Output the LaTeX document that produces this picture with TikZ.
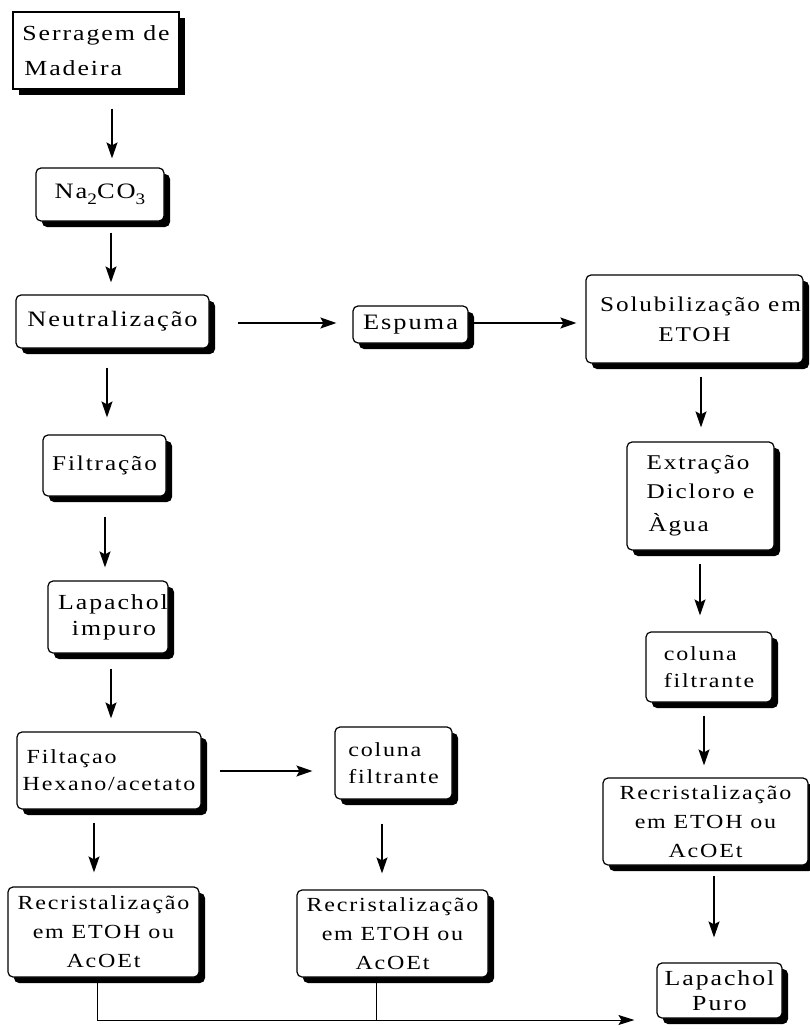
\documentclass[tikz,border=0pt]{standalone}
\usepackage{fontspec}
\newfontfamily\spfont[LetterSpace=9,FakeStretch=1.2]{Liberation Serif}
\usetikzlibrary{shadows,arrows.meta,calc}
\tikzset{
  box/.style={draw, line width=1.2pt, rounded corners=5pt, fill=white, inner sep=0pt, align=center,
    font=\spfont\fontsize{21}{27}\selectfont,
    drop shadow={shadow xshift=6pt, shadow yshift=-6pt, fill=black, opacity=1}},
  sqbox/.style={box, sharp corners},
  arr/.style={-{Stealth[length=16pt,width=11pt,inset=3pt]}, line width=1.3pt},
  thinln/.style={line width=1pt},
  big/.style={font=\spfont\fontsize{22}{30}\selectfont},
  rec/.style={font=\spfont\fontsize{20}{29}\selectfont},
  col/.style={font=\spfont\fontsize{20}{27}\selectfont}
}
\newcommand{\subn}[1]{\raisebox{-0.28em}{\fontsize{16}{16}\selectfont #1}}
\begin{document}
\begin{tikzpicture}[x=1pt,y=-1pt]
\useasboundingbox (0,0) rectangle (809,1030);
\node[sqbox, align=left, font=\spfont\fontsize{21.5}{35}\selectfont, minimum width=166pt, minimum height=77pt] (ser) at (96,50.5) {Serragem de\\ \hspace*{2pt}Madeira};
\node[box, big, minimum width=128pt, minimum height=53pt] (na) at (100,194.5) {Na\subn{2}CO\subn{3}};
\node[box, big, minimum width=193pt, minimum height=53pt] (neu) at (112.5,321.5) {Neutralização};
\node[box, big, minimum width=115pt, minimum height=37pt] (esp) at (410.5,324.5) {Espuma};
\node[box, font=\spfont\fontsize{21}{30}\selectfont, minimum width=217pt, minimum height=88pt] (sol) at (694.5,319) {\hspace*{12pt}Solubilização em\\ ETOH};
\node[box, align=left, font=\spfont\fontsize{21}{29}\selectfont, minimum width=147pt, minimum height=108pt] (ext) at (700.5,496) {Extração\\ Dicloro e\\[4pt] \hspace*{2pt}Àgua};
\node[box, col, align=left, minimum width=126pt, minimum height=70pt] (colr) at (709,667) {coluna\\ filtrante};
\node[box, rec, minimum width=205pt, minimum height=87pt] (recr) at (705.5,821.5) {Recristalização\\ em ETOH ou\\ AcOEt};
\node[box, minimum width=125pt, minimum height=55pt, font=\spfont\fontsize{21.5}{25}\selectfont] (lapp) at (719.5,990.5) {Lapachol\\ Puro};
\node[box, minimum width=123pt, minimum height=61pt] (filt) at (104.5,465.5) {Filtração};
\node[box, minimum width=120pt, minimum height=72pt, font=\spfont\fontsize{21.5}{26}\selectfont] (lapi) at (108,617) {\hspace*{10pt}Lapachol\\ \hspace*{12pt}impuro};
\node[box, align=left, font=\spfont\fontsize{20}{27}\selectfont, minimum width=184pt, minimum height=77pt] (filh) at (109,770.5) {\hspace*{4pt}Filtaçao\\ Hexano/acetato};
\node[box, col, align=left, minimum width=117pt, minimum height=72pt] (colm) at (393.5,763) {coluna\\ filtrante};
\node[box, rec, minimum width=191pt, minimum height=90pt] (recl) at (103.5,932) {Recristalização\\ em ETOH ou\\ AcOEt};
\node[box, rec, minimum width=191pt, minimum height=87pt] (recm) at (392.5,933.5) {Recristalização\\ em ETOH ou\\ AcOEt};

\draw[arr] ($(ser.south)+(16,19)$) -- ($(na.north)+(12,-9)$);
\draw[arr] ($(na.south)+(11,11)$) -- ($(neu.north)+(-1.5,-12)$);
\draw[arr] ($(neu.south)+(-5.5,19)$) -- ($(filt.north)+(2.5,-17)$);
\draw[arr] ($(filt.south)+(0.5,20)$) -- ($(lapi.north)+(-3,-13)$);
\draw[arr] ($(lapi.south)+(3,15)$) -- ($(filh.north)+(2,-13)$);
\draw[arr] ($(filh.south)+(-15,13)$) -- ($(recl.north)+(-9.5,-14)$);
\draw[arr] ($(filh.east)+(18,0.5)$) -- ($(colm.west)+(-22,8)$);
\draw[arr] ($(colm.south)+(-11.5,24)$) -- ($(recm.north)+(-10.5,-16)$);
\draw[arr] ($(neu.east)+(28,1.5)$) -- ($(esp.west)+(-16,-1.5)$);
\draw[arr] ($(esp.east)+(0,-1.5)$) -- ($(sol.west)+(-9,4)$);
\draw[arr] ($(sol.south)+(6.5,13)$) -- ($(ext.north)+(0.5,-14)$);
\draw[arr] ($(ext.south)+(-0.5,13)$) -- ($(colr.north)+(-9,-16)$);
\draw[arr] ($(colr.south)+(-5,13)$) -- ($(recr.north)+(-1.5,-12)$);
\draw[arr] ($(recr.south)+(8.5,10)$) -- ($(lapp.north)+(-5.5,-25)$);
\draw[thinln, -{Stealth[length=16pt,width=10pt,inset=3pt]}] ($(recl.south)+(-6.5,5)$) |- ($(lapp.west)+(-22,29.5)$);
\draw[thinln] ($(recm.south)+(-16.5,-1)$) -- ++(0,44);
\end{tikzpicture}
\end{document}
